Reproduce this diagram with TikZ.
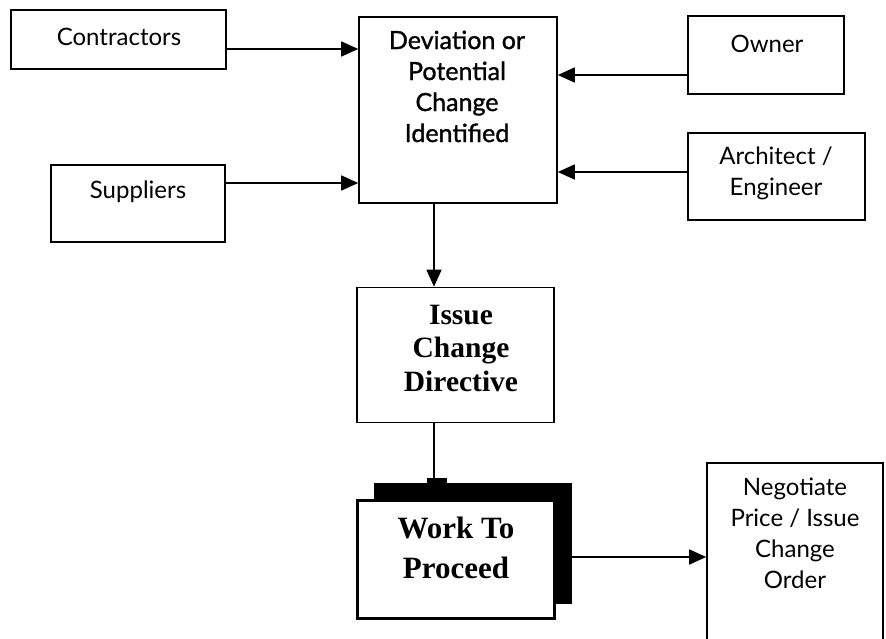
\documentclass[tikz,border=0pt]{standalone}
\usepackage{fontspec}
\usetikzlibrary{arrows.meta}
\newfontfamily\optfont{Lato}
\newfontfamily\optsemi[FakeBold=1.2]{Lato}
\newfontfamily\serifbold{Liberation Serif}

\tikzset{
  box/.style={draw, line width=1.6pt, fill=white, inner sep=0pt},
  heavybox/.style={draw, line width=3pt, fill=white, inner sep=0pt},
  shadowbox/.style={fill=black, draw=black, line width=1pt, inner sep=0pt},
  lbl/.style={anchor=base, align=center, inner sep=0pt},
  plain/.style={lbl, font=\optfont\fontsize{24}{31}\selectfont},
  semi/.style={lbl, font=\optsemi\fontsize{25}{31}\selectfont},
  strong/.style={lbl, font=\serifbold\bfseries\fontsize{29.5}{33.5}\selectfont},
  stronger/.style={lbl, font=\serifbold\bfseries\fontsize{31}{40}\selectfont},
  arr/.style={line width=1.6pt, -{Triangle[length=17pt,width=15pt]}},
  link/.style={line width=1.6pt}
}

\begin{document}
\begin{tikzpicture}[x=1pt, y=-1pt]
  \clip (0,0) rectangle (886,638);
  \useasboundingbox (0,0) rectangle (886,638);
  \fill[white] (0,0) rectangle (886,638);

  % boxes
  \node[box, minimum width=215pt, minimum height=59pt] (contr) at (118.5,39.5) {};
  \node[box, minimum width=174pt, minimum height=77pt] (supp) at (138,203.5) {};
  \node[box, minimum width=198pt, minimum height=186pt] (dev) at (458,110) {};
  \node[box, minimum width=156pt, minimum height=78pt] (owner) at (766,55) {};
  \node[box, minimum width=177pt, minimum height=87pt] (arch) at (776.5,176.5) {};
  \node[box, minimum width=197pt, minimum height=135pt] (issue) at (455.5,355) {};
  \node[shadowbox, minimum width=197pt, minimum height=120pt] (shadow) at (472.5,543) {};
  \node[heavybox, minimum width=197pt, minimum height=118pt] (work) at (455.5,559) {};
  \node[box, minimum width=176pt, minimum height=237pt] (neg) at (795,581.5) {};

  % texts (anchored at the baseline of their last line)
  \node[plain] (contrT) at (119,45) {Contractors};
  \node[plain] (suppT) at (138,198) {Suppliers};
  \node[semi] (devT) at (457,142) {Deviation or\\Potential\\Change\\Identified};
  \node[plain] (ownerT) at (767,52) {Owner};
  \node[plain] (archT) at (776,195) {Architect /\\Engineer};
  \node[strong] (issueT) at (461,391) {Issue\\Change\\Directive};
  \node[stronger] (workT) at (456,578) {Work To\\Proceed};
  \node[plain] (negT) at (795,588) {Negotiate\\Price / Issue\\Change\\Order};

  % connector heights
  \coordinate (yC) at (0,49);
  \coordinate (yS) at (0,183);
  \coordinate (yO) at (0,75);
  \coordinate (yA) at (0,172);
  \coordinate (xD) at (434,0);
  \coordinate (yW) at (0,557);

  % connectors
  \draw[arr] (contr.east |- yC) -- (dev.west |- yC);
  \draw[arr] (supp.east |- yS) -- (dev.west |- yS);
  \draw[arr] (owner.west |- yO) -- (dev.east |- yO);
  \draw[arr] (arch.west |- yA) -- (dev.east |- yA);
  \draw[arr] (xD |- dev.south) -- (xD |- issue.north);
  \draw[link] (xD |- issue.south) -- (xD |- shadow.north);
  \node[fill=black, minimum width=20pt, minimum height=6pt, inner sep=0pt] (tab) at (437,481) {};
  \draw[arr] (shadow.east |- yW) -- (neg.west |- yW);
\end{tikzpicture}
\end{document}
